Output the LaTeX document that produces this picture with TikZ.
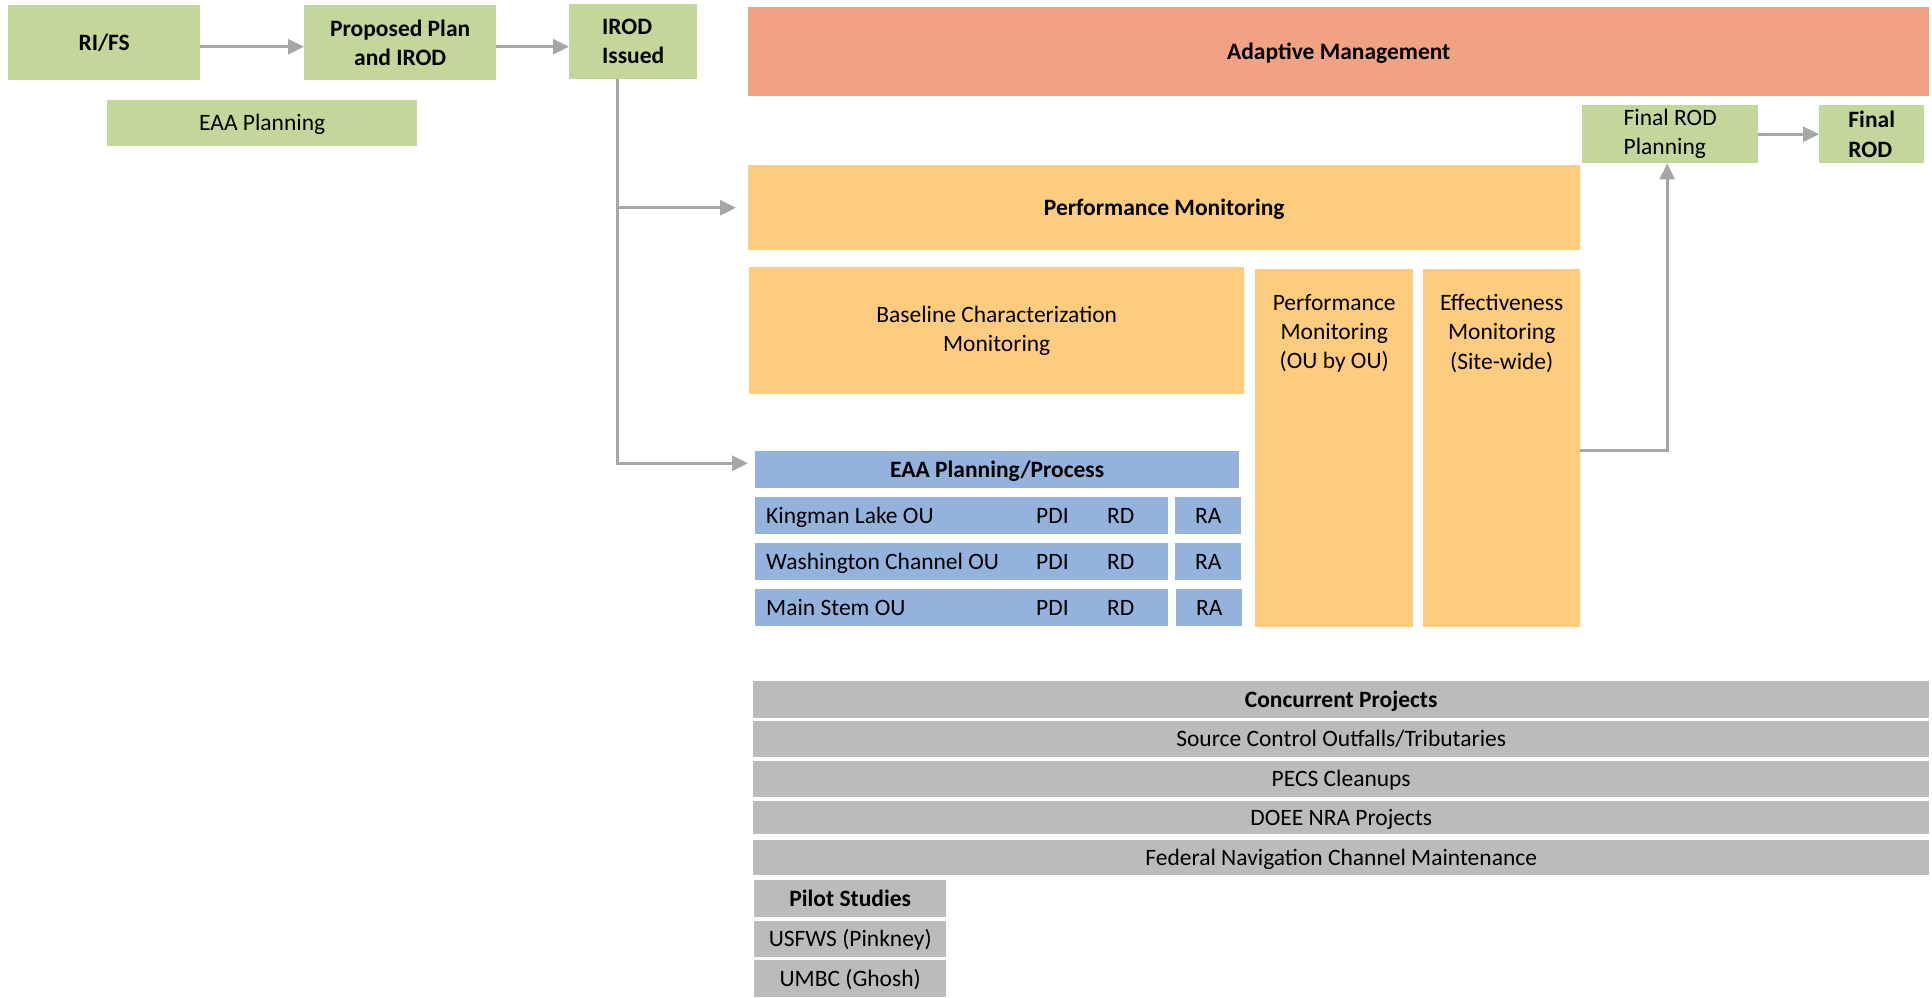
\documentclass[tikz,border=0pt]{standalone}
\usepackage{fontspec}
\setmainfont{Carlito}
\usetikzlibrary{arrows.meta}

\definecolor{sage}{HTML}{C4D79B}
\definecolor{salmon}{HTML}{F1A283}
\definecolor{amber}{HTML}{FECC7E}
\definecolor{skyblue}{HTML}{93B3DD}
\definecolor{ash}{HTML}{BBBBBB}
\definecolor{arrowgray}{HTML}{A6A6A6}

\begin{document}
\begin{tikzpicture}[x=1pt, y=-1pt,
    stage/.style={rectangle, anchor=north west, inner sep=0pt, text=black,
        font=\fontsize{23.5}{29.3}\selectfont, align=center},
    head/.style={font=\fontsize{23.5}{29.3}\selectfont\bfseries},
    oneline/.style={text height=15pt, text depth=0pt},
    rowbox/.style={stage, fill=skyblue, oneline, inner xsep=11pt, text width=391pt,
        minimum height=37pt, align=flush left},
    rabox/.style={stage, fill=skyblue, oneline, minimum width=66pt, minimum height=37pt},
    cell/.style={anchor=west, inner sep=0pt, oneline, font=\fontsize{23.5}{29.3}\selectfont},
    toptext/.style={anchor=north, yshift=-25pt, align=center, inner sep=0pt,
        font=\fontsize{23.5}{29.3}\selectfont},
    greyrow/.style={stage, fill=ash, oneline, minimum width=1176pt},
    pilotrow/.style={stage, fill=ash, oneline, minimum width=192pt},
    flow/.style={draw=arrowgray, line width=3pt, -{Triangle[length=16pt, width=15pt]}}
]
    \useasboundingbox (0,0) rectangle (1932,997);

    % decision steps
    \node [stage, head, fill=sage, minimum width=192pt, minimum height=75pt] (rifs) at (8,5) {RI/FS};
    \node [stage, head, fill=sage, minimum width=192pt, minimum height=75pt] (plan) at (304,5) {Proposed Plan\\and IROD};
    \node [stage, head, fill=sage, minimum width=128pt, minimum height=75pt, align=left] (irod) at (569,4) {IROD\\Issued};
    \node [stage, fill=sage, oneline, minimum width=310pt, minimum height=46pt] (eaa) at (107,100) {EAA Planning};

    \node [stage, head, fill=salmon, oneline, minimum width=1181pt, minimum height=89pt] (adapt) at (748,7) {Adaptive Management};
    \node [stage, fill=sage, minimum width=176pt, minimum height=58pt, align=left] (froplan) at (1582,105) {Final ROD\\Planning};
    \node [stage, head, fill=sage, minimum width=105pt, minimum height=58pt, align=left] (frod) at (1819,105) {Final\\ROD};

    % monitoring
    \node [stage, head, fill=amber, oneline, minimum width=832pt, minimum height=85pt] (perf) at (748,165) {Performance Monitoring};
    \node [stage, fill=amber, minimum width=495pt, minimum height=127pt] (base) at (749,267) {Baseline Characterization\\Monitoring};
    \node [stage, fill=amber, minimum width=158pt, minimum height=358pt,
        label={[toptext]north:{Performance\\Monitoring\\(OU by OU)}}] (ouou) at (1255,269) {};
    \node [stage, fill=amber, minimum width=157pt, minimum height=358pt,
        label={[toptext]north:{Effectiveness\\Monitoring\\(Site-wide)}}] (eff) at (1423,269) {};

    % EAA process
    \node [stage, head, fill=skyblue, oneline, minimum width=484pt, minimum height=37pt] (eaap) at (755,451) {EAA Planning/Process};
    \node [rowbox] (km) at (755,497) {Kingman Lake OU};
    \node [cell] (kmpdi) at ([xshift=281pt]km.west) {PDI};
    \node [cell] (kmrd) at ([xshift=352pt]km.west) {RD};
    \node [rabox] (kmra) at (1175,497) {RA};
    \node [rowbox] (wc) at (755,543) {Washington Channel OU};
    \node [cell] (wcpdi) at ([xshift=281pt]wc.west) {PDI};
    \node [cell] (wcrd) at ([xshift=352pt]wc.west) {RD};
    \node [rabox] (wcra) at (1175,543) {RA};
    \node [rowbox] (ms) at (755,589) {Main Stem OU};
    \node [cell] (mspdi) at ([xshift=281pt]ms.west) {PDI};
    \node [cell] (msrd) at ([xshift=352pt]ms.west) {RD};
    \node [rabox] (msra) at (1176,589) {RA};

    % concurrent work
    \node [greyrow, head, minimum height=37pt] (conc) at (753,681) {Concurrent Projects};
    \node [greyrow, minimum height=36pt] (src) at (753,721) {Source Control Outfalls/Tributaries};
    \node [greyrow, minimum height=36pt] (pecs) at (753,761) {PECS Cleanups};
    \node [greyrow, minimum height=33pt] (doee) at (753,801) {DOEE NRA Projects};
    \node [greyrow, minimum height=35pt] (fed) at (753,840) {Federal Navigation Channel Maintenance};
    \node [pilotrow, head, minimum height=37pt] (pilot) at (754,880) {Pilot Studies};
    \node [pilotrow, minimum height=36pt] (usfws) at (754,921) {USFWS (Pinkney)};
    \node [pilotrow, minimum height=37pt] (umbc) at (754,960) {UMBC (Ghosh)};

    % connectors
    \coordinate (trunk) at ([xshift=-16pt]irod.south);
    \draw [flow] ([yshift=-4pt]rifs.east) -- ([yshift=-4pt]plan.west);
    \draw [flow] ([yshift=-4pt]plan.east) -- ([yshift=-4pt]plan.east -| irod.west);
    \draw [flow, shorten >=7pt] (trunk) |- ([yshift=6.5pt]eaap.west);
    \draw [flow, shorten >=12pt] (trunk |- perf.west) -- (perf.west);
    \draw [flow] ([yshift=-2pt]eff.east) -| ([xshift=-3pt]froplan.south);
    \draw [flow] (froplan.east) -- (frod.west);
\end{tikzpicture}
\end{document}
